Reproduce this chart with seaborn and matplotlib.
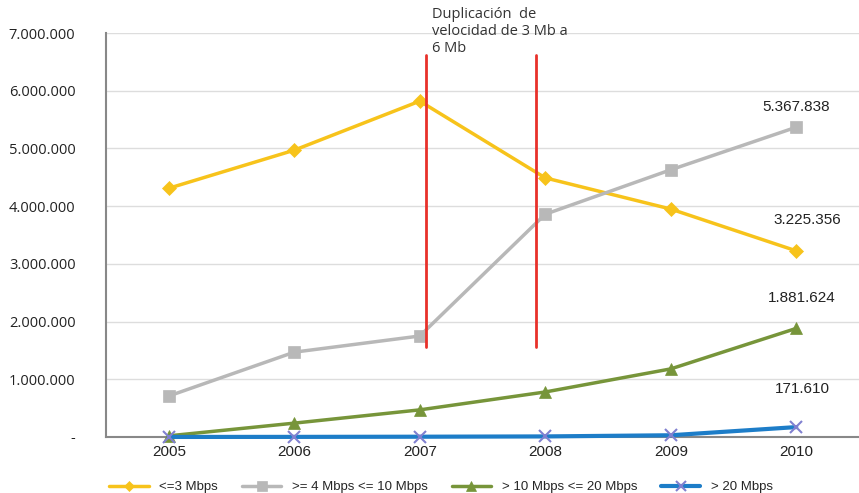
import pandas as pd
import matplotlib.pyplot as plt
import seaborn as sns

years = ['2005', '2006', '2007', '2008', '2009', '2010']
hasta_3 = [4310000, 4970000, 5820000, 4490000, 3950000, 3225356]
de_4_a_10 = [710000, 1470000, 1750000, 3860000, 4630000, 5367838]
de_10_a_20 = [20000, 240000, 470000, 780000, 1180000, 1881624]
mas_de_20 = [1000, 2000, 5000, 10000, 30000, 171610]
series_names = ['<=3 Mbps', '>= 4 Mbps <= 10 Mbps', '> 10 Mbps <= 20 Mbps', '> 20 Mbps']
end_labels = ['3.225.356', '5.367.838', '1.881.624', '171.610']

sns.set_style('white')
plt.rcParams['font.family'] = ['Liberation Sans', 'DejaVu Sans']

rows = []
for name, vals in zip(series_names, [hasta_3, de_4_a_10, de_10_a_20, mas_de_20]):
    for i, v in enumerate(vals):
        rows.append({'pos': i, 'valor': v, 'serie': name})
df = pd.DataFrame(rows)

palette = {'<=3 Mbps': '#F7C31B', '>= 4 Mbps <= 10 Mbps': '#B8B8B8',
           '> 10 Mbps <= 20 Mbps': '#77953A', '> 20 Mbps': '#1D7DC8'}
markers = {'<=3 Mbps': 'D', '>= 4 Mbps <= 10 Mbps': 's',
           '> 10 Mbps <= 20 Mbps': '^', '> 20 Mbps': 'x'}

fig = plt.figure(figsize=(8.59, 4.93), dpi=100)
ax = fig.add_axes([0.1234, 0.1136, 0.8766, 0.8194])

for name in series_names:
    sub = df[df['serie'] == name]
    ms = 7 if markers[name] == 'D' else 9
    sns.lineplot(data=sub, x='pos', y='valor', ax=ax, color=palette[name],
                 marker=markers[name], markersize=ms,
                 linewidth=3 if name == '> 20 Mbps' else 2.5,
                 markeredgecolor='#8080D0' if name == '> 20 Mbps' else palette[name],
                 markeredgewidth=1.5 if name == '> 20 Mbps' else 0.5,
                 label=name, zorder=4, clip_on=False)

# red marker lines
ax.plot([2.05, 2.05], [1560000, 6620000], color='#E8312A', lw=2, zorder=5)
ax.plot([2.93, 2.93], [1560000, 6620000], color='#E8312A', lw=2, zorder=5)
ax.text(2.1, 7450000, 'Duplicación  de\nvelocidad de 3 Mb a\n6 Mb', fontsize=10.5,
        family=['Open Sans', 'DejaVu Sans'], color='#333333', va='top', linespacing=1.2)

# end labels
ax.text(5.0, 5650000, end_labels[1], ha='center', fontsize=11, color='#222222')
ax.text(5.09, 3690000, end_labels[0], ha='center', fontsize=11, color='#222222')
ax.text(5.04, 2340000, end_labels[2], ha='center', fontsize=11, color='#222222')
ax.text(5.05, 760000, end_labels[3], ha='center', fontsize=11, color='#222222')

ax.set_xlim(-0.5, 5.5)
ax.set_ylim(0, 7000000)
ax.set_xticks(range(len(years)))
ax.set_xticklabels(years, fontsize=11, color='#222222')
ax.set_xticks([i - 0.5 for i in range(len(years) + 1)], minor=True)
ax.tick_params(axis='x', which='major', length=0, pad=6)
ax.tick_params(axis='x', which='minor', length=4, color='#888888', direction='out')
yt = list(range(0, 7000001, 1000000))
ax.set_yticks(yt)
ax.set_yticklabels(['-'] + [f'{v:,}'.replace(',', '.') for v in yt[1:]],
                   fontsize=10.5, color='#222222', family=['Open Sans', 'DejaVu Sans'])
ax.tick_params(axis='y', length=4, color='#888888', direction='out', pad=18)
ax.yaxis.grid(True, color='#DDDDDD', lw=1)
ax.set_axisbelow(True)
for s in ['top', 'right']:
    ax.spines[s].set_visible(False)
for s in ['left', 'bottom']:
    ax.spines[s].set_color('#888888')
    ax.spines[s].set_linewidth(1.5)
ax.set_xlabel('')
ax.set_ylabel('')

ax.legend(loc='upper center', bbox_to_anchor=(0.445, -0.08), ncol=4, frameon=False,
          fontsize=9.5, handlelength=3, columnspacing=1.8, markerscale=0.8)

fig.savefig('out.png', dpi=100)
